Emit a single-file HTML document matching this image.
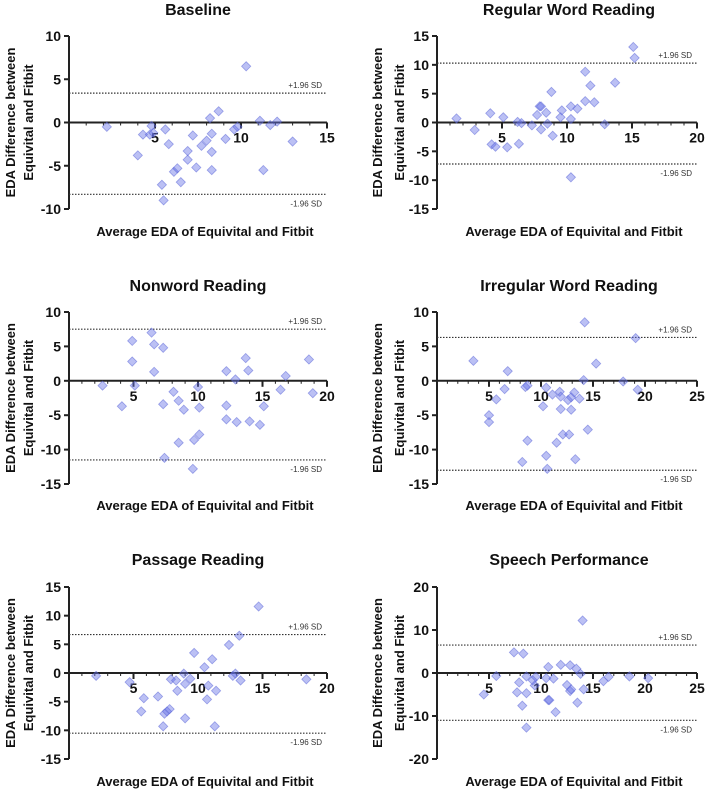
<!DOCTYPE html>
<html><head><meta charset="utf-8"><style>
body{margin:0;background:#fff;}
svg{display:block;font-family:"Liberation Sans",Arial,sans-serif;}
</style></head><body>
<svg id="fig" width="709" height="794" viewBox="0 0 709 794"></svg>
<script>
const titles=["Baseline","Regular Word Reading","Nonword Reading","Irregular Word Reading","Passage Reading","Speech Performance"];
const xMaxes=[15,20,20,25,20,25];
const yMins=[-10,-15,-15,-15,-15,-20];
const yMaxes=[10,15,10,10,15,20];
const yStepsArr=[5,5,5,5,5,10];
const sdUpper=[3.4,10.3,7.5,6.3,6.7,6.5];
const sdLower=[-8.3,-7.2,-11.5,-13.0,-10.5,-11.0];
const baselineX=[2.2,4.8,4.3,4.7,4.9,4.0,5.6,5.8,5.4,5.5,6.1,6.3,6.5,6.9,6.9,7.2,7.4,7.7,8.0,8.2,8.3,8.3,8.3,8.7,9.1,9.6,9.8,10.3,11.1,11.3,11.7,12.1,13.0];
const baselineY=[-0.5,-0.4,-1.4,-1.4,-1.2,-3.8,-0.8,-2.5,-7.2,-9.0,-5.7,-5.3,-6.9,-4.3,-3.3,-1.5,-5.2,-2.7,-2.1,0.5,-5.5,-1.3,-3.4,1.3,-1.9,-0.8,-0.5,6.5,0.2,-5.5,-0.3,0.1,-2.2];
const regularX=[1.5,2.9,4.1,4.2,4.5,5.1,5.4,6.2,6.3,6.5,7.3,7.7,7.9,8.0,8.0,8.4,8.5,8.8,8.9,9.5,9.6,10.3,10.3,10.3,10.8,11.4,11.4,11.8,12.1,12.9,13.7,15.1,15.2];
const regularY=[0.7,-1.3,1.6,-3.8,-4.2,0.9,-4.3,0.1,-3.7,-0.1,-0.5,1.3,2.8,2.8,-1.2,1.7,-0.2,5.3,-2.3,0.9,2.1,2.8,0.6,-9.5,2.4,3.7,8.8,6.4,3.5,-0.3,6.9,13.1,11.2];
const nonwordX=[2.6,4.1,4.9,4.9,5.1,6.4,6.6,6.6,7.3,7.3,7.4,8.1,8.5,8.5,8.9,9.6,9.7,10.0,10.1,10.1,12.2,12.2,12.2,12.9,13.0,13.7,13.9,14.0,14.8,15.1,16.4,16.8,18.6,18.9];
const nonwordY=[-0.7,-3.7,5.8,2.8,-0.7,7.0,5.3,1.3,4.8,-3.4,-11.2,-1.6,-2.9,-9.0,-4.2,-12.8,-8.6,-0.9,-3.9,-7.8,1.4,-3.6,-5.6,0.2,-6.0,3.3,1.5,-5.9,-6.4,-3.7,-1.3,0.7,3.1,-1.8];
const irregularX=[3.5,5.0,5.0,5.7,6.5,6.8,8.2,8.5,8.7,8.7,10.2,10.5,10.5,10.6,11.1,11.5,11.8,11.9,11.9,12.1,12.6,12.7,12.9,12.9,13.2,13.3,13.7,14.1,14.2,14.5,15.3,17.9,19.1,19.3];
const irregularY=[2.9,-5.0,-6.0,-2.7,-1.2,1.4,-11.8,-0.9,-0.7,-8.7,-3.7,-1.0,-10.9,-12.8,-2.0,-9.0,-1.6,-2.3,-4.1,-7.8,-2.8,-7.8,-2.4,-4.2,-1.7,-11.4,-2.6,0.1,8.5,-7.1,2.5,-0.1,6.2,-1.3];
const passageX=[2.1,4.7,5.8,5.6,6.9,7.3,7.4,7.6,7.8,7.9,8.3,8.4,8.9,9.0,9.0,9.4,9.7,10.5,10.7,10.8,11.1,11.3,11.4,12.4,12.7,12.9,13.2,13.3,14.7,18.4];
const passageY=[-0.5,-1.6,-4.4,-6.7,-4.1,-9.3,-7.1,-6.7,-6.3,-1.1,-1.3,-3.1,-0.1,-1.9,-7.9,-1.0,3.5,1.0,-4.6,-2.2,2.4,-9.3,-3.1,4.9,-0.5,-0.1,6.5,-1.3,11.6,-1.1];
const speechX=[4.5,5.7,7.4,7.7,7.9,8.2,8.3,8.6,8.6,8.6,9.2,9.4,9.5,10.5,10.7,10.7,10.8,11.2,11.4,11.9,12.5,12.8,12.9,12.8,13.4,13.5,13.8,14.0,14.1,16.0,16.5,18.5,20.3];
const speechY=[-5.0,-0.7,4.8,-4.5,-2.2,-7.6,4.5,-0.8,-4.7,-12.7,-1.7,-2.9,-0.9,-1.2,1.4,-6.3,-6.3,-1.3,-9.1,1.9,-2.8,-4.2,-3.8,1.8,1.0,-6.9,-0.2,12.2,-3.8,-1.9,-0.9,-0.8,-1.2];
const xsAll=[baselineX,regularX,nonwordX,irregularX,passageX,speechX];
const ysAll=[baselineY,regularY,nonwordY,irregularY,passageY,speechY];

const NS="http://www.w3.org/2000/svg";
const svg=document.getElementById("fig");
function mk(tag,attrs,parent){const e=document.createElementNS(NS,tag);for(const k in attrs)e.setAttribute(k,attrs[k]);(parent||svg).appendChild(e);return e;}
const colL=[69,437], colR=[327,697], rowTop=[36,312,587], rowBot=[209,484,759];
const titleY=[15,291,565], xTitleY=[236,510,786];
const ylabX=[[10,28],[377,399]];
for(let p=0;p<6;p++){
  const c=p%2, r=Math.floor(p/2);
  const L=colL[c], R=colR[c], T=rowTop[r], B=rowBot[r];
  const g=mk("g",{});
  
  
  const sx=v=>L+(v/xMaxes[p])*(R-L);
  const sy=v=>B-(v-yMins[p])/(yMaxes[p]-yMins[p])*(B-T);
  const cx=(L+R)/2+(c===0?0:2);
  const t=mk("text",{x:cx,y:titleY[r],"text-anchor":"middle","font-size":"16","font-weight":"bold",fill:"#111"},g);
  t.textContent=titles[p];
  
  
  const ya=mk("line",{x1:L,x2:L,y1:T,y2:B,stroke:"#222","stroke-width":"2"},g);
  
  
  for(let v=yMins[p];v<=yMaxes[p];v+=yStepsArr[p]){
    mk("line",{x1:L-5,x2:L,y1:sy(v),y2:sy(v),stroke:"#222","stroke-width":"2"},g);
    const tl=mk("text",{x:L-8,y:sy(v)+5,"text-anchor":"end","font-size":"14","font-weight":"bold",fill:"#111"},g);
    tl.textContent=v;
    
    
  }
  const y0=sy(0);
  const xa=mk("line",{x1:L,x2:R,y1:y0,y2:y0,stroke:"#222","stroke-width":"2"},g);
  
  
  for(let v=1;v<=xMaxes[p];v++){
    const major=v%5===0;
    mk("line",{x1:sx(v),x2:sx(v),y1:y0,y2:y0+(major?6:3),stroke:"#222","stroke-width":major?"2":"1"},g);
    if(major){
      const xl=mk("text",{x:sx(v),y:y0+20,"text-anchor":"middle","font-size":"14","font-weight":"bold",fill:"#111"},g);
      xl.textContent=v;
      
      
    }
  }
  [[sdUpper[p],"+1.96 SD",-5],[sdLower[p],"-1.96 SD",12]].forEach(([v,lab,off])=>{
    const ln=mk("line",{x1:L,x2:R,y1:sy(v),y2:sy(v),stroke:"#333","stroke-width":"1.2","stroke-dasharray":"1.5,1.5"},g);
    
    
    const st=mk("text",{x:R-5,y:sy(v)+off,"text-anchor":"end","font-size":"8",fill:"#333"},g);
    st.textContent=lab;
    
    
  });
  const xs=xsAll[p], ys=ysAll[p];
  for(let i=0;i<xs.length;i++){
    const px=sx(xs[i]), py=sy(ys[i]), s=4.6;
    const d=mk("polygon",{points:`${px},${py-s} ${px+s},${py} ${px},${py+s} ${px-s},${py}`,fill:"rgba(105,115,230,0.45)",stroke:"rgba(90,100,215,0.55)","stroke-width":"0.8"},g);
    
    
  }
  const mid=(T+B)/2;
  ["EDA Difference between","Equivital and Fitbit"].forEach((s,k)=>{
    const lx=ylabX[c][k]+5;
    const yl=mk("text",{x:lx,y:mid,"text-anchor":"middle","font-size":"13","font-weight":"bold",fill:"#111",transform:`rotate(-90 ${lx} ${mid})`},g);
    yl.textContent=s;
    
    
  });
  const xt=mk("text",{x:c===0?205:574,y:xTitleY[r],"text-anchor":"middle","font-size":"13","font-weight":"bold",fill:"#111"},g);
  xt.textContent="Average EDA of Equivital and Fitbit";
  
  
}
</script>
</body></html>
